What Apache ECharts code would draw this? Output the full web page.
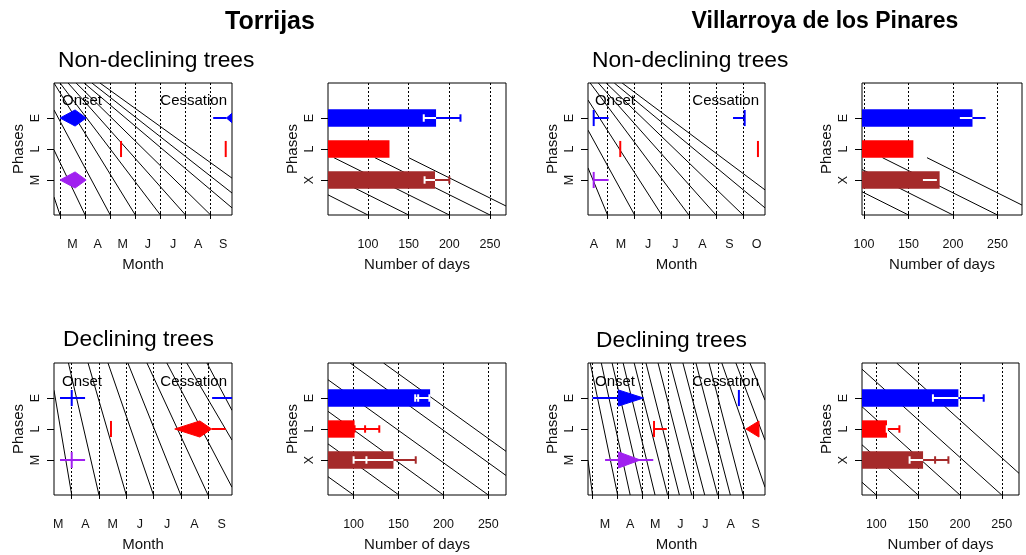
<!DOCTYPE html>
<html><head><meta charset="utf-8">
<script src="https://cdn.jsdelivr.net/npm/echarts@6/dist/echarts.min.js"></script>
<style>html,body{margin:0;padding:0;background:#fff}#c{width:1026px;height:555px}</style>
</head><body><div id="c"></div><script>
const FONT = '"Liberation Sans", Arial, Helvetica, sans-serif';

// ---------------- texts ----------------
const siteNames = ['Torrijas', 'Villarroya de los Pinares'];
const groupNames = ['Non-declining trees', 'Declining trees'];
const windowNames = ['Onset', 'Cessation'];
const monthAxisName = 'Month';
const daysAxisName = 'Number of days';
const phaseAxisName = 'Phases';

// ---------------- categories ----------------
const monthPanelPhases = ['M', 'L', 'E'];   // bottom -> top
const barPanelPhases = ['X', 'L', 'E'];     // bottom -> top
const monthLetters = ['J', 'F', 'M', 'A', 'M', 'J', 'J', 'A', 'S', 'O', 'N', 'D'];

// ---------------- tick values (months: 3 = 1 March) ----------------
const dayTicks = [100, 150, 200, 250];
const torNonDeclMonthTicks = [3, 4, 5, 6, 7, 8, 9];
const torNonDeclMonthLabels = [3.5, 4.5, 5.5, 6.5, 7.5, 8.5, 9.5];
const vilNonDeclMonthTicks = [5, 6, 7, 8, 9, 10];
const vilNonDeclMonthLabels = [4.5, 5.5, 6.5, 7.5, 8.5, 9.5, 10.5];
const torDeclMonthTicks = [4, 5, 6, 7, 8, 9];
const torDeclMonthLabels = [3.5, 4.5, 5.5, 6.5, 7.5, 8.5, 9.5];
const vilDeclMonthTicks = [3, 4, 5, 6, 7, 8, 9];
const vilDeclMonthLabels = [3.5, 4.5, 5.5, 6.5, 7.5, 8.5, 9.5];

// ---------------- phase timing (months) ----------------
// phase, whiskerFrom, whiskerTo, kiteStart, kitePeak, kiteEnd, mark
const torNonDeclTiming = [
  ['E', null, null, 3.00, 3.60, 4.04, null],
  ['E', 9.10, 9.63, 9.63, 10.00, 10.40, null],
  ['L', null, null, null, null, null, 5.43],
  ['L', null, null, null, null, null, 9.60],
  ['M', null, null, 3.00, 3.60, 4.04, null]
];
const vilNonDeclTiming = [
  ['E', 4.49, 5.04, null, null, null, 4.49],
  ['E', 9.63, 10.06, null, null, null, 10.06],
  ['L', null, null, null, null, null, 5.47],
  ['L', null, null, null, null, null, 10.55],
  ['M', 4.49, 5.04, null, null, null, 4.49]
];
const torDeclTiming = [
  ['E', 3.57, 4.49, null, null, null, 4.00],
  ['E', 9.15, 10.20, null, null, null, null],
  ['L', null, null, null, null, null, 5.44],
  ['L', 9.13, 9.65, 7.78, 8.70, 9.13, null],
  ['M', 3.57, 4.49, null, null, null, 4.00]
];
const vilDeclTiming = [
  ['E', 3.00, 4.03, 4.03, 4.03, 5.03, null],
  ['E', null, null, null, null, null, 8.83],
  ['L', 5.45, 5.96, null, null, null, 5.45],
  ['L', null, null, 9.11, 9.63, 9.63, null],
  ['M', 3.50, 5.42, 4.03, 4.03, 4.90, null]
];

// ---------------- number of days (order X, L, E) ----------------
const torNonDeclDays = [182.4, 126.5, 183.7];
const torNonDeclDaysLo = [169.6, null, 168.6];
const torNonDeclDaysMid = [null, null, null];
const torNonDeclDaysHi = [200.0, null, 213.7];

const vilNonDeclDays = [185.0, 155.5, 221.9];
const vilNonDeclDaysLo = [166.2, null, 207.7];
const vilNonDeclDaysMid = [null, null, null];
const vilNonDeclDaysHi = [181.9, null, 236.6];

const torDeclDays = [144.4, 101.1, 185.2];
const torDeclDaysLo = [100.0, 101.1, 168.6];
const torDeclDaysMid = [114.3, 112.8, 171.9];
const torDeclDaysHi = [169.2, 128.6, 184.4];

const vilDeclDays = [155.9, 112.8, 198.1];
const vilDeclDaysLo = [139.8, 112.5, 167.7];
const vilDeclDaysMid = [170.3, null, null];
const vilDeclDaysHi = [186.2, 127.6, 228.4];

// ---------------- background hatch lines [xFrom, yFrom, xTo, yTo] ----------------
const torNonDeclMonthHatch = [
  [4.59, 4.13, 9.85, 1.06], [4.27, 4.13, 9.85, 0.58], [3.96, 4.13, 9.85, 0.10],
  [3.64, 4.13, 9.00, -0.13], [3.32, 4.13, 8.00, -0.13], [3.00, 4.13, 7.00, -0.13],
  [2.76, 4.13, 6.00, -0.13], [2.76, 3.26, 5.00, -0.13], [2.76, 1.97, 4.00, -0.13],
  [2.76, 0.45, 3.00, -0.13]
];
const vilNonDeclMonthHatch = [
  [5.54, 4.13, 10.81, 0.68], [5.25, 4.13, 10.81, 0.10], [4.95, 4.13, 10.00, -0.13],
  [4.66, 4.13, 9.00, -0.13], [4.36, 4.13, 8.00, -0.13], [4.28, 3.58, 7.00, -0.13],
  [4.28, 2.61, 6.00, -0.13], [4.28, 1.39, 5.00, -0.13]
];
const torDeclMonthHatch = [
  [3.35, 3.25, 4.00, -0.13], [3.88, 4.13, 5.00, -0.13], [4.60, 4.13, 6.00, -0.13],
  [5.33, 4.13, 7.00, -0.13], [6.06, 4.13, 8.00, -0.13], [6.76, 4.13, 9.00, -0.13],
  [7.49, 4.13, 9.88, 0.12], [8.22, 4.13, 9.88, 1.64], [8.96, 4.13, 9.88, 2.60]
];
const vilDeclMonthHatch = [
  [2.82, 0.99, 3.00, -0.13], [2.91, 4.13, 4.00, -0.13], [3.35, 4.13, 4.50, -0.13],
  [3.78, 4.13, 5.00, -0.13], [4.22, 4.13, 5.49, -0.13], [4.66, 4.13, 5.99, -0.13],
  [5.13, 4.13, 6.46, -0.13], [5.61, 4.13, 6.95, -0.13], [6.09, 4.13, 7.47, -0.13],
  [6.60, 4.13, 7.98, -0.13], [7.12, 4.13, 8.49, -0.13], [7.64, 4.13, 9.00, -0.13],
  [8.15, 4.13, 9.87, 0.12], [8.71, 4.13, 9.87, 1.64], [9.27, 4.13, 9.87, 2.93]
];
const torNonDeclDaysHatch = [
  [51.0, 0.52, 100, -0.13], [51.0, 1.17, 150, -0.13], [58.2, 1.72, 200, -0.13],
  [108.5, 1.72, 250, -0.13], [150.1, 1.72, 269.6, 0.16]
];
const vilNonDeclDaysHatch = [
  [97.8, 0.62, 150, -0.13], [97.8, 1.34, 200, -0.13], [120.8, 1.72, 250, -0.13],
  [170.8, 1.72, 277.5, 0.19]
];
const torDeclDaysHatch = [
  [71.5, 0.46, 100, -0.13], [71.5, 1.52, 150.5, -0.13], [71.5, 2.57, 200, -0.13],
  [71.5, 3.59, 250, -0.13], [96.1, 4.13, 269.7, 0.50], [133.3, 4.13, 269.7, 1.28]
];
const vilDeclDaysHatch = [
  [82.9, 0.28, 100, -0.13], [82.9, 1.49, 150, -0.13], [82.9, 2.72, 200, -0.13],
  [82.9, 3.93, 250, -0.13], [124.3, 4.13, 270.6, 0.57]
];

// ---------------- styles ----------------
const BAR_COLORS = ['#A52A2A', '#FF0000', '#0000FF'];     // X, L, E
const PHASE_COLORS = ['#A020F0', '#FF0000', '#0000FF'];   // M, L, E
const BAR_HALF = 0.28, KITE_HALF = 0.26, MARK_HALF = 0.26, CAP_HALF = 0.12;
const Y_MIN = -0.13, Y_MAX = 4.13;

const panels = [
  {grid: {left: 54, top: 83, width: 178, height: 132}, kind: 'month', min: 2.76, max: 9.85,
   ticks: torNonDeclMonthTicks, labels: torNonDeclMonthLabels, timing: torNonDeclTiming, hatch: torNonDeclMonthHatch},
  {grid: {left: 328, top: 83, width: 178, height: 132}, kind: 'days', min: 51, max: 269.6,
   days: torNonDeclDays, lo: torNonDeclDaysLo, mid: torNonDeclDaysMid, hi: torNonDeclDaysHi, caps: true, hatch: torNonDeclDaysHatch},
  {grid: {left: 588, top: 83, width: 177, height: 132}, kind: 'month', min: 4.28, max: 10.81,
   ticks: vilNonDeclMonthTicks, labels: vilNonDeclMonthLabels, timing: vilNonDeclTiming, hatch: vilNonDeclMonthHatch},
  {grid: {left: 862, top: 83, width: 160, height: 132}, kind: 'days', min: 97.8, max: 277.5,
   days: vilNonDeclDays, lo: vilNonDeclDaysLo, mid: vilNonDeclDaysMid, hi: vilNonDeclDaysHi, caps: false, hatch: vilNonDeclDaysHatch},
  {grid: {left: 54, top: 363, width: 178, height: 132}, kind: 'month', min: 3.35, max: 9.88,
   ticks: torDeclMonthTicks, labels: torDeclMonthLabels, timing: torDeclTiming, hatch: torDeclMonthHatch},
  {grid: {left: 328, top: 363, width: 178, height: 132}, kind: 'days', min: 71.5, max: 269.7,
   days: torDeclDays, lo: torDeclDaysLo, mid: torDeclDaysMid, hi: torDeclDaysHi, caps: true, hatch: torDeclDaysHatch},
  {grid: {left: 588, top: 363, width: 177, height: 132}, kind: 'month', min: 2.82, max: 9.87,
   ticks: vilDeclMonthTicks, labels: vilDeclMonthLabels, timing: vilDeclTiming, hatch: vilDeclMonthHatch},
  {grid: {left: 862, top: 363, width: 157, height: 132}, kind: 'days', min: 82.9, max: 270.6,
   days: vilDeclDays, lo: vilDeclDaysLo, mid: vilDeclDaysMid, hi: vilDeclDaysHi, caps: true, hatch: vilDeclDaysHatch}
];

function clipOf(params) {
  const cs = params.coordSys;
  return {type: 'rect', shape: {x: cs.x, y: cs.y, width: cs.width, height: cs.height}};
}
function lineEl(api, x1, y1, x2, y2, color, w) {
  const a = api.coord([x1, y1]), b = api.coord([x2, y2]);
  return {type: 'line', shape: {x1: a[0], y1: a[1], x2: b[0], y2: b[1]}, style: {stroke: color, lineWidth: w}};
}

const grids = [], xAxes = [], yAxes = [], series = [];
panels.forEach((p, gi) => {
  grids.push(Object.assign({show: true, borderColor: '#000', borderWidth: 1, backgroundColor: 'transparent', containLabel: false}, p.grid));
  const isMonth = p.kind === 'month';
  xAxes.push({
    gridIndex: gi, type: 'value', min: p.min, max: p.max,
    axisLine: {show: false},
    axisTick: {show: true, inside: false, length: 8, customValues: isMonth ? p.ticks : dayTicks, lineStyle: {color: '#000', width: 1}},
    axisLabel: {show: true, customValues: isMonth ? p.labels : dayTicks, margin: 23, fontSize: 12.5, fontFamily: FONT, color: '#111',
      formatter: isMonth ? (v => monthLetters[Math.floor(v + 0.01) - 1]) : (v => String(v))},
    splitLine: {show: true, lineStyle: {type: [2, 2], color: '#000', width: 1}},
    name: isMonth ? monthAxisName : daysAxisName, nameLocation: 'middle', nameGap: 42,
    nameTextStyle: {fontSize: 15, fontFamily: FONT, color: '#111'}
  });
  const phases = isMonth ? monthPanelPhases : barPanelPhases;
  yAxes.push({
    gridIndex: gi, type: 'value', min: Y_MIN, max: Y_MAX,
    axisLine: {show: false},
    axisTick: {show: true, inside: false, length: 7, customValues: [1, 2, 3], lineStyle: {color: '#000', width: 1}},
    axisLabel: {show: true, customValues: [1, 2, 3], rotate: 90, margin: 12, fontSize: 12.5, fontFamily: FONT, color: '#111',
      formatter: v => phases[Math.round(v) - 1]},
    splitLine: {show: false},
    name: phaseAxisName, nameLocation: 'middle', nameGap: 28,
    nameTextStyle: {fontSize: 15, fontFamily: FONT, color: '#111'}
  });

  // hatch lines
  series.push({
    type: 'custom', xAxisIndex: gi, yAxisIndex: gi, z: 2, silent: true, clip: true,
    encode: {x: [0, 2], y: [1, 3]}, data: p.hatch,
    renderItem: (params, api) => Object.assign(
      lineEl(api, api.value(0), api.value(1), api.value(2), api.value(3), '#000', 1), {clipPath: clipOf(params)})
  });

  if (isMonth) {
    series.push({
      type: 'custom', xAxisIndex: gi, yAxisIndex: gi, z: 4, silent: true, clip: true,
      data: p.timing.map(r => [monthPanelPhases.indexOf(r[0]) + 1, r[1], r[2], r[3], r[4], r[5], r[6]]),
      encode: {y: 0},
      renderItem: (params, api) => {
        const y = api.value(0);
        const col = PHASE_COLORS[Math.round(y) - 1];
        const wl = api.value(1), wh = api.value(2), kl = api.value(3), kp = api.value(4), kr = api.value(5), mk = api.value(6);
        const children = [];
        if (!isNaN(wl) && !isNaN(wh)) children.push(lineEl(api, wl, y, wh, y, col, 2));
        if (!isNaN(kl) && !isNaN(kp) && !isNaN(kr)) {
          const pts = [[kl, y], [kp, y + KITE_HALF], [kr, y], [kp, y - KITE_HALF]].map(q => api.coord(q));
          children.push({type: 'polygon', shape: {points: pts}, style: {fill: col, stroke: col, lineWidth: 1}});
        }
        if (!isNaN(mk)) children.push(lineEl(api, mk, y - MARK_HALF, mk, y + MARK_HALF, col, 2));
        return {type: 'group', children: children, clipPath: clipOf(params)};
      }
    });
  } else {
    series.push({
      type: 'custom', xAxisIndex: gi, yAxisIndex: gi, z: 3, silent: true, clip: true,
      data: p.days.map((v, i) => [v, i + 1]),
      renderItem: (params, api) => {
        const v = api.value(0), y = api.value(1);
        const left = params.coordSys.x;
        const a = api.coord([v, y + BAR_HALF]), b = api.coord([v, y - BAR_HALF]);
        return {type: 'rect', shape: {x: left, y: a[1], width: a[0] - left, height: b[1] - a[1]},
          style: {fill: BAR_COLORS[params.dataIndex]}, clipPath: clipOf(params)};
      }
    });
    const caps = p.caps;
    series.push({
      type: 'custom', xAxisIndex: gi, yAxisIndex: gi, z: 4, silent: true, clip: true,
      data: p.days.map((v, i) => [p.lo[i], p.hi[i], p.mid[i], i + 1, v]),
      renderItem: (params, api) => {
        const l = api.value(0), h = api.value(1), m = api.value(2), y = api.value(3), v = api.value(4);
        if (isNaN(l) || isNaN(h)) return null;
        const col = BAR_COLORS[params.dataIndex];
        const children = [];
        if (l < v) children.push(lineEl(api, l, y, Math.min(h, v), y, '#fff', 2));
        if (h > v) children.push(lineEl(api, Math.max(l, v), y, h, y, col, 2));
        const tk = (x) => children.push(lineEl(api, x, y - CAP_HALF, x, y + CAP_HALF, x < v ? '#fff' : col, 2));
        if (caps) { tk(l); tk(h); }
        if (!isNaN(m)) tk(m);
        return {type: 'group', children: children, clipPath: clipOf(params)};
      }
    });
  }
});

function txt(text, x, y, size, align, bold) {
  return {type: 'text', x: x, y: y, z: 100, silent: true,
    style: {text: text, fontSize: size, fontFamily: FONT, fontWeight: bold ? 'bold' : 'normal', fill: '#000',
      align: align, verticalAlign: 'middle', textAlign: align, textVerticalAlign: 'middle'}};
}
const graphic = [
  txt(siteNames[0], 270, 22, 25, 'center', true),
  txt(siteNames[1], 825, 22, 23, 'center', true),
  txt(groupNames[0], 58, 61, 22.8, 'left'),
  txt(groupNames[0], 592, 61, 22.8, 'left'),
  txt(groupNames[1], 63, 340, 22.8, 'left'),
  txt(groupNames[1], 596, 341, 22.8, 'left'),
  txt(windowNames[0], 62, 101, 15, 'left'),
  txt(windowNames[1], 227, 101, 15, 'right'),
  txt(windowNames[0], 595, 101, 15, 'left'),
  txt(windowNames[1], 759, 101, 15, 'right'),
  txt(windowNames[0], 62, 382, 15, 'left'),
  txt(windowNames[1], 227, 382, 15, 'right'),
  txt(windowNames[0], 595, 382, 15, 'left'),
  txt(windowNames[1], 759, 382, 15, 'right')
];

const chart = echarts.init(document.getElementById('c'), null, {renderer: 'canvas'});
chart.setOption({
  animation: false,
  backgroundColor: '#fff',
  grid: grids, xAxis: xAxes, yAxis: yAxes, series: series, graphic: graphic
});
</script></body></html>
